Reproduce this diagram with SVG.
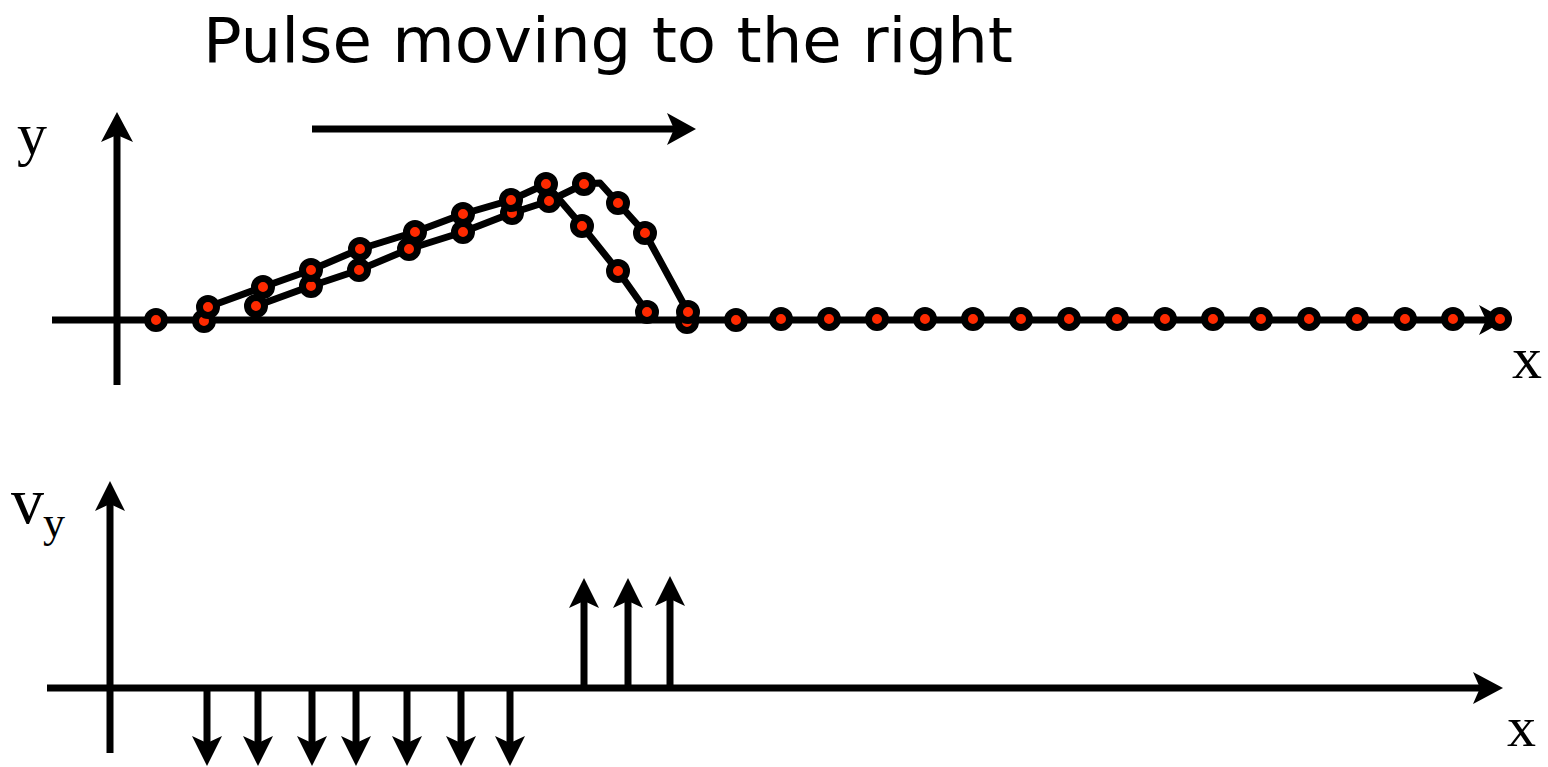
<svg xmlns="http://www.w3.org/2000/svg" width="1548" height="767" viewBox="0 0 1548 767">
<style>
.ax{stroke:#000;stroke-width:7;fill:none}
.hd{fill:#000;stroke:none}
.cv{stroke:#000;stroke-width:7;fill:none;stroke-linejoin:round}
.dot{fill:#ff2a00;stroke:#000;stroke-width:7}
.ser{font-family:"Liberation Serif","Times New Roman",serif;fill:#000}
.title{font-family:"DejaVu Sans",Verdana,sans-serif;fill:#000}
</style>
<rect width="1548" height="767" fill="#fff"/>
<text class="title" x="203" y="62" font-size="62" textLength="810" lengthAdjust="spacingAndGlyphs">Pulse moving to the right</text>
<g id="connectors">
<g id="pulse-arrow">
<line class="ax" x1="312" y1="129" x2="680" y2="129"/>
<path class="hd" d="M696,129 L667,113 L674,129 L667,145 Z"/>
</g>
<g id="axes">
<line class="ax" x1="52" y1="320" x2="1490" y2="320"/>
<path class="hd" d="M1506,320 L1479,305 L1486,320 L1479,335 Z"/>
<line class="ax" x1="117" y1="385" x2="117" y2="130"/>
<path class="hd" d="M117,112 L101,142 L117,135 L133,142 Z"/>
<line class="ax" x1="47" y1="688" x2="1486" y2="688"/>
<path class="hd" d="M1503,688 L1473,672 L1480,688 L1473,704 Z"/>
<line class="ax" x1="110" y1="753" x2="110" y2="499"/>
<path class="hd" d="M110,481 L95,511 L110,504 L125,511 Z"/>
</g>
<g id="down-arrows">
<line class="ax" x1="207" y1="688" x2="207" y2="749"/><path class="hd" d="M207,766 L192,736 L207,743 L222,736 Z"/>
<line class="ax" x1="258" y1="688" x2="258" y2="749"/><path class="hd" d="M258,766 L243,736 L258,743 L273,736 Z"/>
<line class="ax" x1="312" y1="688" x2="312" y2="749"/><path class="hd" d="M312,766 L297,736 L312,743 L327,736 Z"/>
<line class="ax" x1="356" y1="688" x2="356" y2="749"/><path class="hd" d="M356,766 L341,736 L356,743 L371,736 Z"/>
<line class="ax" x1="407" y1="688" x2="407" y2="749"/><path class="hd" d="M407,766 L392,736 L407,743 L422,736 Z"/>
<line class="ax" x1="461" y1="688" x2="461" y2="749"/><path class="hd" d="M461,766 L446,736 L461,743 L476,736 Z"/>
<line class="ax" x1="510" y1="688" x2="510" y2="749"/><path class="hd" d="M510,766 L495,736 L510,743 L525,736 Z"/>
</g>
<g id="up-arrows">
<line class="ax" x1="584" y1="688" x2="584" y2="595"/><path class="hd" d="M584,578 L569,608 L584,601 L599,608 Z"/>
<line class="ax" x1="628" y1="688" x2="628" y2="595"/><path class="hd" d="M628,578 L613,608 L628,601 L643,608 Z"/>
<line class="ax" x1="670" y1="688" x2="670" y2="593"/><path class="hd" d="M670,576 L655,606 L670,599 L685,606 Z"/>
</g>
</g>
<g id="pulse-early">
<polyline class="cv" points="208,307 263,287 311,270 360,249 415,232 463,214 511,200 546,184 582,226 618,271 647,312"/>
</g>
<g id="pulse-late">
<polyline class="cv" points="256,306 311,286 359,270 409,249 463,232 512,213 549,201 584,184 600,183 618,203 645,233 688,312"/>
</g>
<g id="dots">
<circle class="dot" cx="156" cy="320" r="8.5"/>
<circle class="dot" cx="204" cy="321" r="8.5"/>
<circle class="dot" cx="208" cy="307" r="8.5"/>
<circle class="dot" cx="256" cy="306" r="8.5"/>
<circle class="dot" cx="263" cy="287" r="8.5"/>
<circle class="dot" cx="311" cy="286" r="8.5"/>
<circle class="dot" cx="311" cy="270" r="8.5"/>
<circle class="dot" cx="359" cy="270" r="8.5"/>
<circle class="dot" cx="360" cy="249" r="8.5"/>
<circle class="dot" cx="409" cy="249" r="8.5"/>
<circle class="dot" cx="415" cy="232" r="8.5"/>
<circle class="dot" cx="463" cy="232" r="8.5"/>
<circle class="dot" cx="463" cy="214" r="8.5"/>
<circle class="dot" cx="512" cy="213" r="8.5"/>
<circle class="dot" cx="511" cy="200" r="8.5"/>
<circle class="dot" cx="546" cy="184" r="8.5"/>
<circle class="dot" cx="549" cy="201" r="8.5"/>
<circle class="dot" cx="584" cy="184" r="8.5"/>
<circle class="dot" cx="582" cy="226" r="8.5"/>
<circle class="dot" cx="618" cy="203" r="8.5"/>
<circle class="dot" cx="618" cy="271" r="8.5"/>
<circle class="dot" cx="645" cy="233" r="8.5"/>
<circle class="dot" cx="647" cy="312" r="8.5"/>
<circle class="dot" cx="687" cy="322" r="8.5"/>
<circle class="dot" cx="688" cy="312" r="8.5"/>
<circle class="dot" cx="736" cy="320" r="8.5"/>
<circle class="dot" cx="781" cy="319" r="8.5"/>
<circle class="dot" cx="829" cy="319" r="8.5"/>
<circle class="dot" cx="877" cy="319" r="8.5"/>
<circle class="dot" cx="925" cy="319" r="8.5"/>
<circle class="dot" cx="973" cy="319" r="8.5"/>
<circle class="dot" cx="1021" cy="319" r="8.5"/>
<circle class="dot" cx="1069" cy="319" r="8.5"/>
<circle class="dot" cx="1117" cy="319" r="8.5"/>
<circle class="dot" cx="1165" cy="319" r="8.5"/>
<circle class="dot" cx="1213" cy="319" r="8.5"/>
<circle class="dot" cx="1261" cy="319" r="8.5"/>
<circle class="dot" cx="1309" cy="319" r="8.5"/>
<circle class="dot" cx="1357" cy="319" r="8.5"/>
<circle class="dot" cx="1405" cy="319" r="8.5"/>
<circle class="dot" cx="1453" cy="319" r="8.5"/>
<circle class="dot" cx="1500" cy="319" r="8.5"/>
</g>
<g id="labels">
<text class="ser" x="17" y="154" font-size="60">y</text>
<text class="ser" x="1512" y="378" font-size="60">x</text>
<text class="ser" x="11" y="523" font-size="66">v</text>
<text class="ser" x="43" y="537" font-size="44">y</text>
<text class="ser" x="1507" y="746" font-size="58">x</text>
</g>
</svg>
